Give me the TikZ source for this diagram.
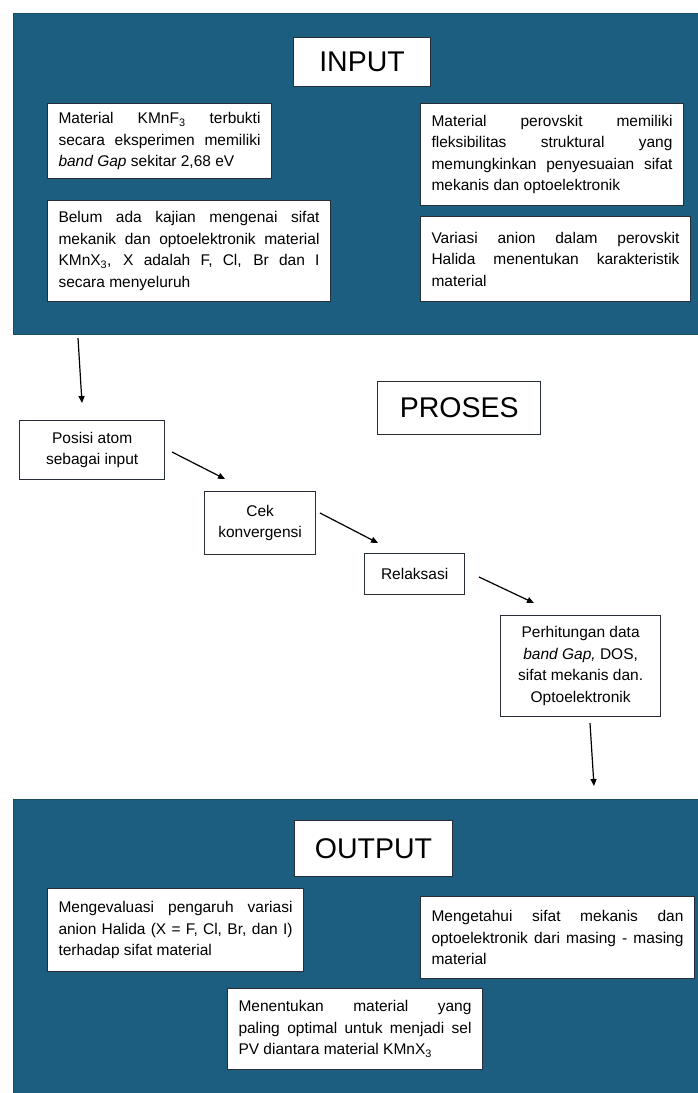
\documentclass[tikz,border=0pt]{standalone}
\usepackage{fontspec}
\setmainfont{Liberation Sans}
\usetikzlibrary{arrows.meta}
\definecolor{panel}{RGB}{27,94,128}
\definecolor{edge}{RGB}{40,46,56}
\newcommand\bodyfnt{\fontsize{15.5pt}{21.5pt}\selectfont}
\newcommand\titlefnt{\fontsize{28.5pt}{34pt}\selectfont}
\begin{document}
\begin{tikzpicture}[x=1pt,y=-1pt,
  panelbox/.style={draw=panel!80!black, line width=0.8pt, fill=panel, anchor=north west, inner sep=0pt},
  txtbox/.style={draw=edge, line width=1pt, fill=white, inner xsep=11pt, inner ysep=3pt, align=justify, anchor=north west, font=\bodyfnt},
  titlebox/.style={draw=edge, line width=1pt, fill=white, inner sep=0pt, anchor=north west, font=\titlefnt},
  procbox/.style={draw=edge, line width=1.3pt, fill=white, inner sep=0pt, align=center, anchor=north west, font=\bodyfnt},
  flow/.style={draw=black, line width=1.2pt, -{Triangle[length=7pt,width=6pt]}}
]
\useasboundingbox (0,0) rectangle (697,1093);
\fill[white] (0,0) rectangle (697,1093);

% INPUT panel
\node[panelbox, minimum width=690pt, minimum height=321pt] (inpanel) at (13,13) {};
\node[titlebox, minimum width=137pt, minimum height=49pt] (input) at (293,37) {INPUT};
\node[txtbox, minimum height=75pt, text width=202pt] (ia) at (47,103)
 {Material KMnF\textsubscript{3} terbukti\linebreak secara eksperimen memiliki\linebreak \textit{band Gap} sekitar 2,68 eV};
\node[txtbox, minimum height=101pt, text width=261pt] (ib) at (47,200)
 {Belum ada kajian mengenai sifat\linebreak mekanik dan optoelektronik material\linebreak KMnX\textsubscript{3}, X adalah F, Cl, Br dan I\linebreak secara menyeluruh};
\node[txtbox, minimum height=102pt, text width=241pt] (ic) at (420,103)
 {Material perovskit memiliki\linebreak fleksibilitas struktural yang\linebreak memungkinkan penyesuaian sifat\linebreak mekanis dan optoelektronik};
\node[txtbox, minimum height=85pt, text width=248pt] (id) at (420,216)
 {Variasi anion dalam perovskit\linebreak Halida menentukan karakteristik\linebreak material};

% PROSES
\node[titlebox, line width=1.3pt, minimum width=163pt, minimum height=53pt] (proses) at (377,381) {PROSES};
\node[procbox, minimum width=145pt, minimum height=59pt] (posisi) at (19,420) {Posisi atom\\sebagai input};
\node[procbox, minimum width=111pt, minimum height=63pt] (cek) at (204,491) {Cek\\konvergensi};
\node[procbox, minimum width=100pt, minimum height=41pt] (relaks) at (364,553) {Relaksasi};
\node[procbox, minimum width=160pt, minimum height=101pt] (hitung) at (500,615)
 {Perhitungan data\\\textit{band Gap,} DOS,\\sifat mekanis dan.\\Optoelektronik};

% OUTPUT panel
\node[panelbox, minimum width=690pt, minimum height=300pt] (outpanel) at (13,799) {};
\node[titlebox, minimum width=158pt, minimum height=56pt] (output) at (294,820) {OUTPUT};
\node[txtbox, minimum height=83pt, text width=234pt] (oa) at (47,888)
 {Mengevaluasi pengaruh variasi\linebreak anion Halida (X = F, Cl, Br, dan I)\linebreak terhadap sifat material};
\node[txtbox, minimum height=82pt, text width=252pt] (ob) at (420,896)
 {Mengetahui sifat mekanis dan\linebreak optoelektronik dari masing - masing\linebreak material};
\node[txtbox, minimum height=81pt, text width=233pt] (oc) at (227,988)
 {Menentukan material yang\linebreak paling optimal untuk menjadi sel\linebreak PV diantara material KMnX\textsubscript{3}};

% connectors
\coordinate (a1s) at (78,338);  \coordinate (a1e) at (82,403);
\coordinate (a2s) at (172,452); \coordinate (a2e) at (225,479);
\coordinate (a3s) at (320,513); \coordinate (a3e) at (378,543);
\coordinate (a4s) at (479,577); \coordinate (a4e) at (534,603);
\coordinate (a5s) at (590,723); \coordinate (a5e) at (594,786);
\draw[flow] (a1s) -- (a1e);
\draw[flow] (a2s) -- (a2e);
\draw[flow] (a3s) -- (a3e);
\draw[flow] (a4s) -- (a4e);
\draw[flow] (a5s) -- (a5e);
\end{tikzpicture}
\end{document}
